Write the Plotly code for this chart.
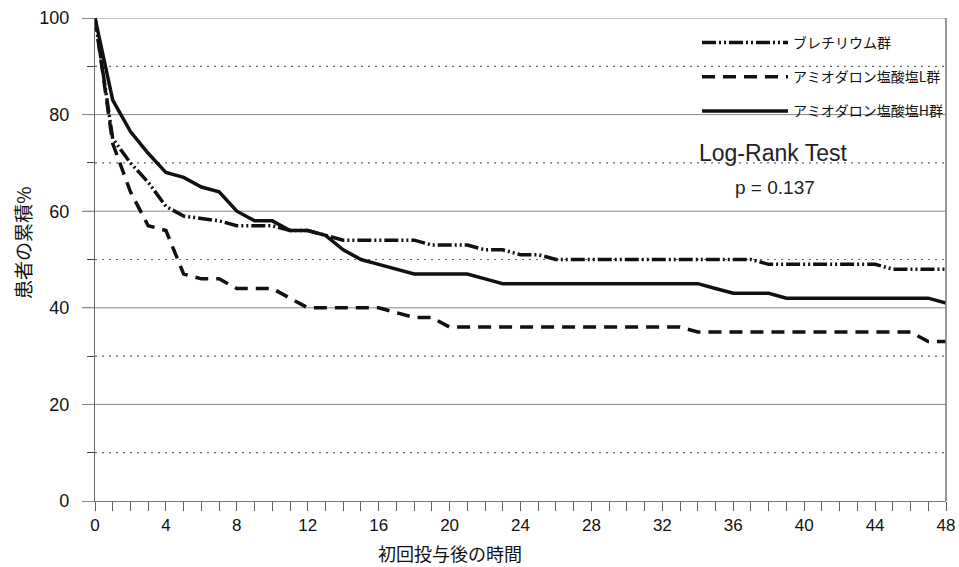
import plotly.graph_objects as go

months = list(range(0, 49))

bretylium = [100, 75, 70, 66, 61, 59, 58.5, 58, 57, 57, 57, 56, 56, 55, 54, 54, 54, 54, 54, 53,
             53, 53, 52, 52, 51, 51, 50, 50, 50, 50, 50, 50, 50, 50, 50, 50, 50, 50, 49, 49,
             49, 49, 49, 49, 49, 48, 48, 48, 48]
amio_low = [100, 74, 64, 57, 56, 47, 46, 46, 44, 44, 44, 42, 40, 40, 40, 40, 40, 39, 38, 38,
            36, 36, 36, 36, 36, 36, 36, 36, 36, 36, 36, 36, 36, 36, 35, 35, 35, 35, 35, 35,
            35, 35, 35, 35, 35, 35, 35, 33, 33]
amio_high = [100, 83, 76.5, 72, 68, 67, 65, 64, 60, 58, 58, 56, 56, 55, 52, 50, 49, 48, 47, 47,
             47, 47, 46, 45, 45, 45, 45, 45, 45, 45, 45, 45, 45, 45, 45, 44, 43, 43, 43, 42,
             42, 42, 42, 42, 42, 42, 42, 42, 41]

names = ["ブレチリウム群", "アミオダロン塩酸塩L群", "アミオダロン塩酸塩H群"]
x_ticks = list(range(0, 49, 4))
y_ticks = list(range(0, 101, 20))
solid_grid = [20, 40, 60, 80, 100]
dotted_grid = [10, 30, 50, 70, 90]

JP = "Noto Sans CJK JP, sans-serif"
AR = "Liberation Sans, Arial, sans-serif"

W, H = 959, 567
L, R, T, B = 95, 13, 18, 66
PW, PH = W - L - R, H - T - B


def px_x(p):
    return (p - L) / PW


def px_y(p):
    return (H - B - p) / PH


fig = go.Figure()
fig.add_trace(go.Scatter(x=months, y=bretylium, mode="lines", name=names[0], legendgroup="a",
                         line=dict(color="#111", width=3.5, dash="14px,3px,2px,3px,2px,3px")))
fig.add_trace(go.Scatter(x=months, y=amio_low, mode="lines", name=names[1], legendgroup="b",
                         line=dict(color="#111", width=3.5, dash="13px,8px")))
fig.add_trace(go.Scatter(x=months, y=amio_high, mode="lines", name=names[2], legendgroup="c",
                         line=dict(color="#111", width=3.5)))

for v in solid_grid:
    fig.add_shape(type="line", xref="paper", yref="y", x0=-0.014, x1=1, y0=v, y1=v,
                  line=dict(color="#888", width=1), layer="below")
for v in dotted_grid:
    fig.add_shape(type="line", xref="paper", yref="y", x0=0, x1=1, y0=v, y1=v,
                  line=dict(color="#666", width=1.2, dash="2px,5px"), layer="below")
fig.add_shape(type="line", xref="paper", yref="paper", x0=1, x1=1, y0=0, y1=1,
              line=dict(color="#777", width=1.5))

fig.add_annotation(text="Log-Rank Test", xref="paper", yref="paper", x=px_x(697), y=px_y(153),
                   xanchor="left", yanchor="middle", showarrow=False,
                   font=dict(family=AR, size=23, color="#222"))
fig.add_annotation(text="p = 0.137", xref="paper", yref="paper", x=px_x(733), y=px_y(188),
                   xanchor="left", yanchor="middle", showarrow=False,
                   font=dict(family=AR, size=19, color="#222"))
fig.add_annotation(text="初回投与後の時間", xref="paper", yref="paper", x=px_x(450), y=px_y(553),
                   xanchor="center", yanchor="middle", showarrow=False, borderpad=0,
                   font=dict(family=JP, size=18, color="#111"))
fig.add_annotation(text="患者の累積%", xref="paper", yref="paper", x=px_x(22), y=px_y(243),
                   xanchor="center", yanchor="middle", showarrow=False, textangle=-90,
                   font=dict(family=JP, size=19, color="#111"))

fig.update_layout(
    width=W, height=H,
    margin=dict(l=L, r=R, t=T, b=B, autoexpand=False),
    paper_bgcolor="white", plot_bgcolor="white",
    showlegend=True,
    legend=dict(x=px_x(697), y=px_y(27), xanchor="left", yanchor="top", bgcolor="rgba(0,0,0,0)",
                font=dict(family=JP, size=14, color="#111"), itemwidth=86,
                tracegroupgap=13),
    xaxis=dict(range=[0, 48], tickvals=x_ticks, ticks="outside", ticklen=9, tickcolor="#666",
               automargin=False,
               showgrid=False, zeroline=False, showline=True, linecolor="#777", linewidth=1,
               tickfont=dict(family=AR, size=17, color="#111"),
               minor=dict(dtick=1, ticks="outside", ticklen=9, tickcolor="#666")),
    yaxis=dict(range=[0, 100], tickvals=y_ticks, ticks="outside", ticklen=12, tickcolor="#888",
               automargin=False, ticklabelstandoff=9,
               showgrid=False, zeroline=False, showline=True, linecolor="#666", linewidth=1.2,
               tickfont=dict(family=AR, size=18, color="#111"),
               minor=dict(dtick=10, ticks="outside", ticklen=7, tickcolor="#444")),
)

fig.write_html("out.html")
